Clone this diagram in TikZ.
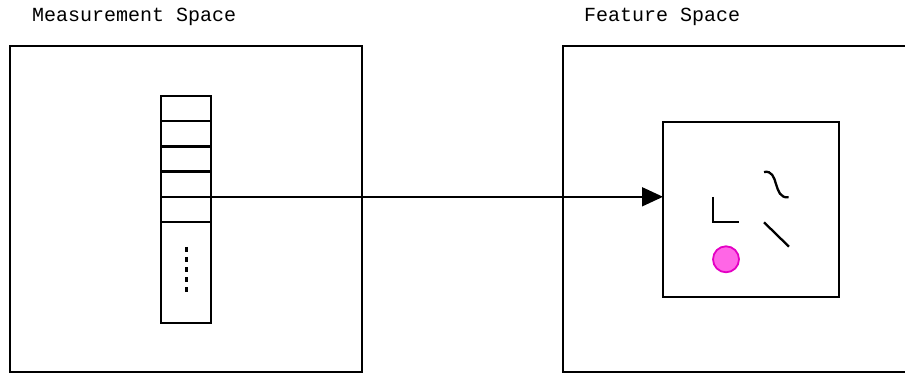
\documentclass[tikz,border=0pt]{standalone}
\usepackage{fontspec}
\setmonofont{Liberation Mono}
\usetikzlibrary{arrows.meta}
\definecolor{pinkfill}{RGB}{255,102,230}
\definecolor{pinkline}{RGB}{228,0,196}
\tikzset{
  frame/.style={draw=black, line width=2.3pt, inner sep=0pt, outer sep=0pt, anchor=north west},
  cell/.style={draw=black, line width=2.3pt, inner sep=0pt, outer sep=0pt, minimum width=50pt, anchor=north west},
  title/.style={font=\ttfamily\fontsize{20pt}{24pt}\selectfont, inner sep=0pt, anchor=base west},
  glyph/.style={line width=2.3pt, draw=black},
  conn/.style={line width=1.8pt, -{Triangle[length=21pt,width=19pt]}}
}
\begin{document}
\begin{tikzpicture}[x=1pt,y=-1pt]
\useasboundingbox (0,0) rectangle (905,374);
\clip (0,0) rectangle (905,374);
% titles
\node[title] (tm) at (32,21.7) {Measurement Space};
\node[title] (tf) at (584,21.7) {Feature Space};
% outer frames
\node[frame, minimum width=352pt, minimum height=326pt] (ms) at (10,46) {};
\node[frame, minimum width=352pt, minimum height=326pt] (fs) at (563,46) {};
% vector column
\node[cell, minimum height=25.2pt] (c1) at (161,96) {};
\node[cell, minimum height=25.2pt] (c2) at (161,121.2) {};
\node[cell, minimum height=25.2pt] (c3) at (161,146.4) {};
\node[cell, minimum height=25.2pt] (c4) at (161,171.6) {};
\node[cell, minimum height=25.2pt] (c5) at (161,196.8) {};
\node[cell, minimum height=100.8pt] (c6) at (161,222) {};
\draw[line width=3pt, dash pattern=on 5pt off 5pt] (186,247) -- (186,292);
% inner feature box
\node[frame, minimum width=176pt, minimum height=175pt] (inner) at (663,121.7) {};
% connector
\coordinate (a) at (c4.south east);
\draw[conn] (a) -- (inner.west |- a);
% features
\draw[glyph] (713.3,197) -- (713.3,221.7) -- (738.5,221.7);
\draw[glyph] (764,172) .. controls (780,169) and (772,199) .. (788.5,197.3);
\draw[glyph] (764,222.3) -- (789,246.7);
\node[circle, draw=pinkline, fill=pinkfill, line width=1.8pt, minimum size=26pt, inner sep=0pt] (dot) at (726,259.3) {};
\end{tikzpicture}
\end{document}
